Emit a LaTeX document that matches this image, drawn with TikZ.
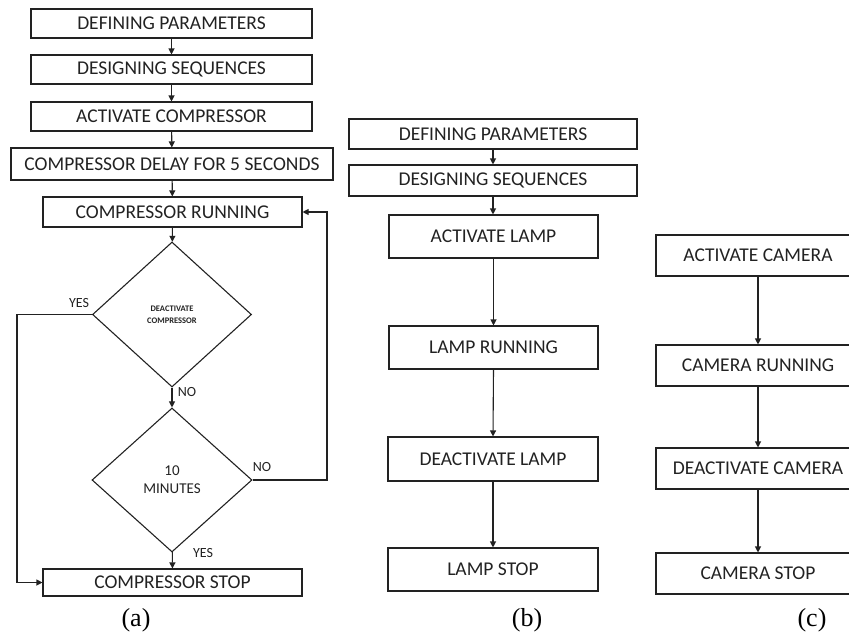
\documentclass[tikz,border=0pt]{standalone}
\usepackage{fontspec}
\setmainfont{Carlito}
\newfontfamily\capfont{Liberation Serif}
\usetikzlibrary{shapes.geometric,arrows.meta}
\definecolor{ink}{HTML}{222222}
\tikzset{
  boxa/.style={draw=ink, line width=1.1pt, inner sep=0pt, font=\fontsize{19.5}{21}\selectfont, text=ink},
  dec/.style={draw=ink, line width=1.1pt, shape=diamond, inner sep=0pt, align=center, text=ink},
  conn/.style={draw=ink, line width=1.1pt, -{Triangle[length=6pt,width=6pt]}},
  lbl/.style={font=\fontsize{14}{16}\selectfont, text=ink, inner sep=0pt},
  panel/.style={font=\capfont\fontsize{26}{28}\selectfont, inner sep=0pt}
}
\begin{document}
\begin{tikzpicture}[x=1pt,y=-1pt]
\useasboundingbox (0,0) rectangle (849,637);
\clip (0,0) rectangle (849,637);
% ---------- panel (a)
\node[boxa, minimum width=281pt, minimum height=29pt] (a1) at (171.5,23.5) {DEFINING PARAMETERS};
\node[boxa, minimum width=281pt, minimum height=29pt] (a2) at (171.5,69.5) {DESIGNING SEQUENCES};
\node[boxa, minimum width=281pt, minimum height=29pt] (a3) at (171.5,116.5) {ACTIVATE COMPRESSOR};
\node[boxa, minimum width=322pt, minimum height=32pt] (a4) at (172,164) {COMPRESSOR DELAY FOR 5 SECONDS};
\node[boxa, minimum width=259pt, minimum height=30pt] (a5) at (172.5,212) {COMPRESSOR RUNNING};
\node[dec, minimum width=159pt, minimum height=145pt, font=\bfseries\fontsize{8.5}{12}\selectfont] (d1) at (172,314.5) {DEACTIVATE\\COMPRESSOR};
\node[dec, minimum width=160pt, minimum height=144pt, font=\fontsize{15}{18}\selectfont] (d2) at (172,480) {10\\MINUTES};
\node[boxa, minimum width=259pt, minimum height=27pt] (a6) at (172.5,582.5) {COMPRESSOR STOP};
\coordinate (lft) at (17,314.5);
\coordinate (rgt) at (327,480);
\draw[conn] (a1) -- (a2);
\draw[conn] (a2) -- (a3);
\draw[conn] (a3) -- (a4);
\draw[conn] (a4) -- (a5);
\draw[conn] (a5) -- (d1);
\draw[conn] (d1) -- (d2);
\draw[conn] (d2) -- (a6);
\draw[conn] (d1.west) -- (lft) |- (a6.west);
\draw[conn] (d2.east) -- (rgt) |- (a5.east);
\node[lbl] (yes1) at (79,303) {YES};
\node[lbl] (no1) at (187,392) {NO};
\node[lbl] (no2) at (262,467) {NO};
\node[lbl] (yes2) at (203,553) {YES};
\node[panel] (capa) at (136,620) {(a)};
% ---------- panel (b)
\node[boxa, minimum width=288pt, minimum height=30pt] (b1) at (493,134) {DEFINING PARAMETERS};
\node[boxa, minimum width=288pt, minimum height=31pt] (b2) at (493,180.5) {DESIGNING SEQUENCES};
\node[boxa, minimum width=209pt, minimum height=43pt] (b3) at (493.5,236.5) {ACTIVATE LAMP};
\node[boxa, minimum width=209pt, minimum height=43pt] (b4) at (493.5,347.5) {LAMP RUNNING};
\node[boxa, minimum width=210pt, minimum height=44pt] (b5) at (493,459) {DEACTIVATE LAMP};
\node[boxa, minimum width=210pt, minimum height=43pt] (b6) at (493,569.5) {LAMP STOP};
\draw[conn] (b1) -- (b2);
\draw[conn] (b2) -- (b2 |- b3.north);
\draw[conn] (b3.south) -- (b4.north);
\draw[conn] (b4.south) -- (b5.north);
\draw[conn] (b5.south) -- (b6.north);
\node[panel] (capb) at (527,620) {(b)};
% ---------- panel (c)
\node[boxa, minimum width=204pt, minimum height=41pt] (c1) at (758,255.5) {ACTIVATE CAMERA};
\node[boxa, minimum width=204pt, minimum height=41pt] (c2) at (758,365.5) {CAMERA RUNNING};
\node[boxa, minimum width=204pt, minimum height=41pt] (c3) at (758,468.5) {DEACTIVATE CAMERA};
\node[boxa, minimum width=204pt, minimum height=41pt] (c4) at (758,573.5) {CAMERA STOP};
\draw[conn] (c1) -- (c2);
\draw[conn] (c2) -- (c3);
\draw[conn] (c3) -- (c4);
\node[panel] (capc) at (812,620) {(c)};
\end{tikzpicture}
\end{document}
